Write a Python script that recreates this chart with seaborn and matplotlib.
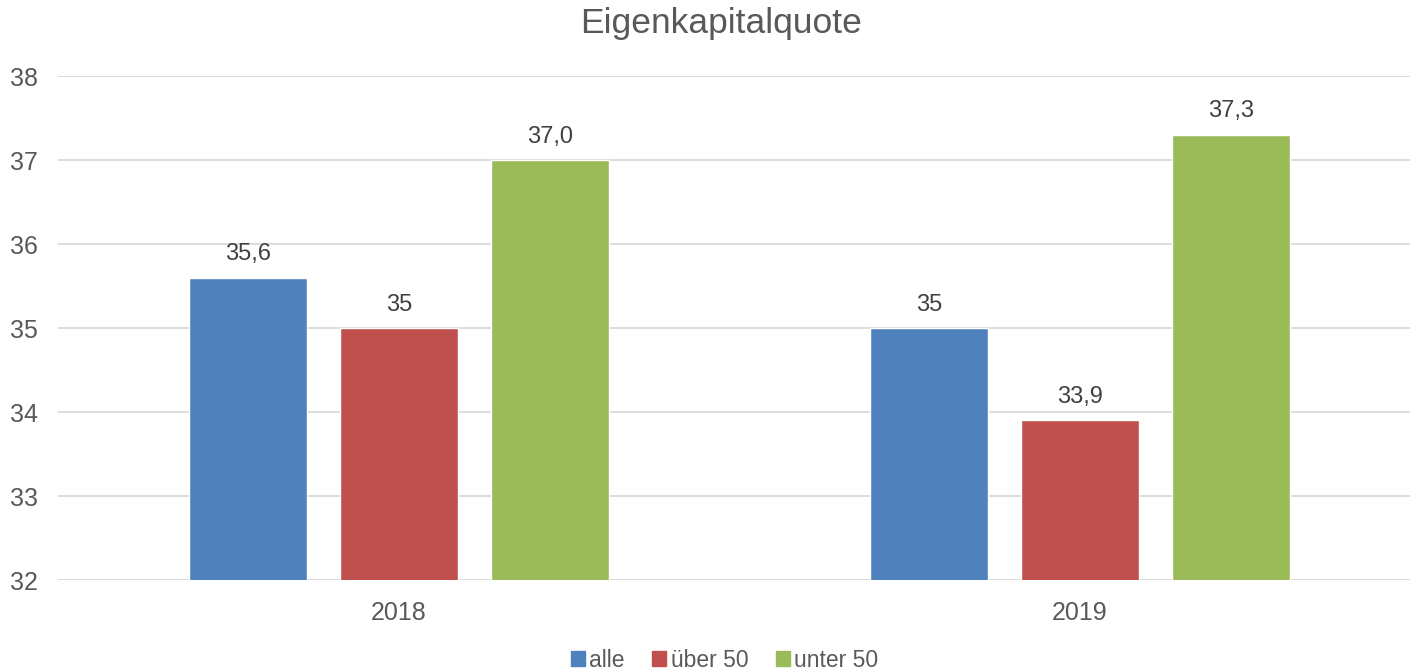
import pandas as pd
import matplotlib
matplotlib.use("Agg")
import matplotlib.pyplot as plt
import seaborn as sns

years = ["2018", "2019"]
groups = ["alle", "über 50", "unter 50"]
alle = [35.6, 35.0]
ueber50 = [35.0, 33.9]
unter50 = [37.0, 37.3]
labels_alle = ["35,6", "35"]
labels_ueber50 = ["35", "33,9"]
labels_unter50 = ["37,0", "37,3"]
colors = ["#4F81BD", "#C0504D", "#9BBB59"]

df = pd.DataFrame({
    "Jahr": years * 3,
    "Gruppe": [g for g in groups for _ in years],
    "Wert": alle + ueber50 + unter50,
})

sns.set_style("white")
plt.rcParams["font.family"] = ["Liberation Sans", "DejaVu Sans"]

fig = plt.figure(figsize=(14.1, 6.71), dpi=100)
# plot area runs off the right edge like the original's gridlines
ax = fig.add_axes([58.5 / 1410, 0.1356, 1362 / 1410, 0.7511])

sns.barplot(data=df, x="Jahr", y="Wert", hue="Gruppe", palette=colors,
            width=0.665, gap=0.2185, ax=ax, legend=False, saturation=1)

ax.set_ylim(32, 38)
ax.set_yticks(range(32, 39))
ax.set_xlim(-0.5, 1.5)
ax.yaxis.grid(True, color="#d9d9d9", linewidth=1.3)
ax.set_axisbelow(True)
for s in ax.spines.values():
    s.set_visible(False)
ax.tick_params(axis="both", length=0, labelsize=18, labelcolor="#595959")
ax.tick_params(axis="y", pad=15)
ax.tick_params(axis="x", pad=15)
ax.set_xlabel("")
ax.set_ylabel("")

all_labels = [labels_alle, labels_ueber50, labels_unter50]
for cont, labs in zip(ax.containers, all_labels):
    ax.bar_label(cont, labels=labs, padding=9, fontsize=17, color="#404040")

fig.text(721 / 1410, 1 - 23 / 671, "Eigenkapitalquote", ha="center", va="center",
         fontsize=25.5, color="#595959")

handles = [plt.Rectangle((0, 0), 1, 1, color=c) for c in colors]
fig.legend(handles, groups, loc="lower center", bbox_to_anchor=(0.514, -0.032),
           ncol=3, frameon=False, fontsize=16.5, labelcolor="#595959",
           handlelength=0.6, handleheight=0.6, handletextpad=0.2,
           columnspacing=1.2)

fig.savefig("out.png", dpi=100)
